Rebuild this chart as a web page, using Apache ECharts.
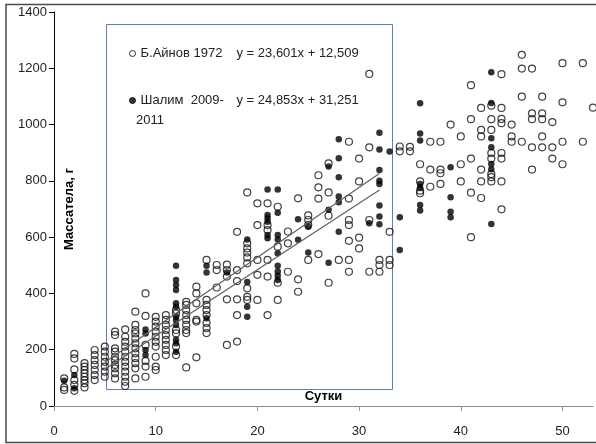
<!DOCTYPE html>
<html>
<head>
<meta charset="utf-8">
<script src="https://cdn.jsdelivr.net/npm/echarts@6/dist/echarts.min.js"></script>
<style>
html, body { margin: 0; padding: 0; background: #fff; }
#chart { width: 596px; height: 444px; }
</style>
</head>
<body>
<div id="chart"></div>
<script>
'use strict';

// open circles: Б.Айнов 1972  [day, mass]
var ainovPoints = [
    [1, 98], [1, 66], [1, 57],
    [2, 185], [2, 169], [2, 130], [2, 92], [2, 75], [2, 54],
    [3, 152], [3, 140], [3, 128], [3, 116], [3, 104], [3, 92], [3, 81], [3, 66],
    [4, 199], [4, 181], [4, 163], [4, 146], [4, 128], [4, 110], [4, 92],
    [5, 211], [5, 193], [5, 175], [5, 157], [5, 140], [5, 122], [5, 104],
    [6, 264], [6, 252], [6, 205], [6, 193], [6, 175], [6, 163], [6, 146], [6, 134], [6, 116], [6, 98],
    [7, 272], [7, 246], [7, 228], [7, 211], [7, 193], [7, 175], [7, 157], [7, 140], [7, 122], [7, 104], [7, 86], [7, 71],
    [8, 335], [8, 288], [8, 270], [8, 258], [8, 240], [8, 223], [8, 205], [8, 187], [8, 170], [8, 152], [8, 134], [8, 98],
    [9, 400], [9, 320], [9, 217], [9, 160], [9, 140], [9, 104],
    [10, 317], [10, 300], [10, 282], [10, 264], [10, 246], [10, 228], [10, 211], [10, 175], [10, 140], [10, 128],
    [11, 323], [11, 306], [11, 288], [11, 270], [11, 252], [11, 235], [11, 217], [11, 199], [11, 181],
    [12, 341], [12, 329], [12, 270], [12, 258], [12, 211], [12, 181],
    [13, 370], [13, 359], [13, 341], [13, 323], [13, 306], [13, 288], [13, 270], [13, 259], [13, 137],
    [14, 424], [14, 400], [14, 365], [14, 306], [14, 300], [14, 173],
    [15, 519], [15, 377], [15, 359], [15, 341], [15, 323], [15, 295], [15, 277], [15, 259],
    [16, 501], [16, 483], [16, 421],
    [17, 502], [17, 483], [17, 460], [17, 379], [17, 217],
    [18, 619], [18, 483], [18, 444], [18, 379], [18, 323], [18, 229],
    [19, 759], [19, 578], [19, 560], [19, 545], [19, 528], [19, 507], [19, 418], [19, 388], [19, 377],
    [20, 720], [20, 643], [20, 519], [20, 466], [20, 377],
    [21, 720], [21, 643], [21, 625], [21, 519], [21, 460], [21, 323],
    [22, 708], [22, 566], [22, 438], [22, 377],
    [23, 620], [23, 578], [23, 477],
    [24, 738], [24, 450], [24, 406],
    [25, 677], [25, 661], [25, 643], [25, 519],
    [26, 820], [26, 777], [26, 737], [26, 540],
    [27, 862], [27, 759], [27, 676], [27, 438],
    [28, 519],
    [29, 939], [29, 737], [29, 661], [29, 643], [29, 587], [29, 519], [29, 477],
    [30, 879], [30, 798], [30, 598], [30, 560],
    [31, 1180], [31, 919], [31, 661], [31, 477],
    [32, 519], [32, 501], [32, 477],
    [33, 619], [33, 519], [33, 501],
    [34, 922], [34, 905],
    [35, 921], [35, 905],
    [36, 859], [36, 798], [36, 765], [36, 756],
    [37, 939], [37, 840], [37, 779],
    [38, 939], [38, 840], [38, 827], [38, 789],
    [39, 1000],
    [40, 958], [40, 859], [40, 798],
    [41, 1140], [41, 1019], [41, 879], [41, 758], [41, 600],
    [42, 1059], [42, 981], [42, 958], [42, 840], [42, 798], [42, 739],
    [43, 1067], [43, 1019], [43, 981], [43, 899], [43, 879], [43, 824], [43, 813], [43, 798],
    [44, 1179], [44, 1059], [44, 1020], [44, 1005], [44, 899], [44, 879], [44, 798], [44, 699],
    [45, 1000], [45, 958], [45, 939],
    [46, 1248], [46, 1199], [46, 1099], [46, 939],
    [47, 1199], [47, 1040], [47, 1019], [47, 919], [47, 840],
    [48, 1099], [48, 1040], [48, 1019], [48, 958], [48, 919],
    [49, 1009], [49, 919], [49, 879],
    [50, 1218], [50, 1079], [50, 939], [50, 859],
    [52, 1218], [52, 939],
    [53, 1060]
];

// filled circles: Шалим 2009-2011  [day, mass]
var shalimPoints = [
    [1, 90], [2, 110], [2, 63],
    [9, 272], [9, 258], [9, 199], [9, 181],
    [12, 498], [12, 448], [12, 430], [12, 412], [12, 365], [12, 353], [12, 317], [12, 306], [12, 288], [12, 235], [12, 223], [12, 193],
    [15, 312], [15, 498], [15, 474],
    [17, 474],
    [19, 592], [19, 441], [19, 353], [19, 317],
    [21, 769], [21, 679], [21, 667], [21, 655], [21, 608], [21, 596],
    [22, 769], [22, 687], [22, 608], [22, 592], [22, 543], [22, 498], [22, 478], [22, 463], [22, 448],
    [24, 664], [24, 591],
    [25, 637], [25, 545],
    [27, 851], [27, 697], [27, 509],
    [28, 948], [28, 880], [28, 813], [28, 744], [28, 724], [28, 619],
    [31, 649],
    [32, 971], [32, 911], [32, 839], [32, 800], [32, 789], [32, 712], [32, 673], [32, 646],
    [33, 904],
    [34, 671], [34, 554],
    [36, 1076], [36, 968], [36, 943], [36, 789], [36, 775], [36, 714], [36, 695],
    [39, 848], [39, 742], [39, 690], [39, 671],
    [43, 1186], [43, 1077], [43, 951], [43, 919], [43, 860], [43, 841], [43, 647]
];

var seriesNames = ['Б.Айнов 1972', 'Шалим 2009-2011'];
var legendLabels = ['Б.Айнов 1972', 'Шалим  2009-'];
var fitLabels = ['y = 23,601x + 12,509', 'y = 24,853x + 31,251'];
var ainovFit = [23.601, 12.509];
var shalimFit = [24.853, 31.251];
var trendDays = [5, 32];
var xTicks = [0, 10, 20, 30, 40, 50];

var FONT = '"Liberation Sans", Arial, sans-serif';

function fitLine(fit) {
    return trendDays.map(function (d) { return [d, fit[0] * d + fit[1]]; });
}

var chart = echarts.init(document.getElementById('chart'), null, { renderer: 'canvas' });

var option = {
    animation: false,
    backgroundColor: '#fff',
    textStyle: { fontFamily: FONT },
    grid: { left: 54, right: 3, top: 12, bottom: 38, outerBoundsMode: 'none', containLabel: false },
    legend: {
        data: seriesNames,
        orient: 'vertical',
        left: 124,
        top: 42,
        itemWidth: 6,
        itemHeight: 6,
        itemGap: 34,
        itemStyle: { borderWidth: 1, borderColor: '#000' },
        formatter: function (name) {
            var i = seriesNames.indexOf(name);
            return '{n|' + legendLabels[i] + '}{e|' + fitLabels[i] + '}';
        },
        textStyle: {
            fontFamily: FONT,
            fontSize: 13,
            color: '#222',
            rich: {
                n: { width: 96, fontSize: 13, lineHeight: 16, color: '#222', fontFamily: FONT },
                e: { fontSize: 13, lineHeight: 16, color: '#222', fontFamily: FONT }
            }
        }
    },
    xAxis: {
        type: 'value',
        min: 0,
        max: 53,
        interval: 10,
        name: 'Сутки',
        nameLocation: 'middle',
        nameGap: -16,
        nameMoveOverlap: false,
        nameTextStyle: { fontSize: 13, fontWeight: 'bold', color: '#000', fontFamily: FONT },
        splitLine: { show: false },
        axisLine: { lineStyle: { color: '#8a8a8a', width: 1 } },
        axisTick: { length: 5, lineStyle: { color: '#9a9a9a' }, customValues: xTicks },
        axisLabel: { margin: 19, fontSize: 13, color: '#222', customValues: xTicks }
    },
    yAxis: {
        type: 'value',
        min: 0,
        max: 1400,
        interval: 200,
        name: 'Массатела, г',
        nameLocation: 'middle',
        nameRotate: 90,
        nameGap: -22,
        nameMoveOverlap: false,
        nameTextStyle: { fontSize: 13, fontWeight: 'bold', color: '#000', fontFamily: FONT },
        splitLine: { show: false },
        axisLine: { show: true, lineStyle: { color: '#000', width: 1 } },
        axisTick: { show: true, length: 5, lineStyle: { color: '#000' } },
        axisLabel: {
            margin: 7,
            fontSize: 13,
            color: '#222',
            formatter: function (v) { return String(v); }
        }
    },
    series: [
        {
            name: seriesNames[0],
            type: 'scatter',
            symbol: 'circle',
            symbolSize: 7,
            itemStyle: { color: 'rgba(255,255,255,0)', borderColor: '#111', borderWidth: 1.2 },
            data: ainovPoints,
            z: 2
        },
        {
            name: seriesNames[1],
            type: 'scatter',
            symbol: 'circle',
            symbolSize: 6.5,
            itemStyle: { color: '#000' },
            data: shalimPoints,
            z: 3
        },
        {
            name: 'trend-ainov',
            type: 'line',
            data: fitLine(ainovFit),
            showSymbol: false,
            lineStyle: { color: '#606060', width: 1.2 },
            z: 4
        },
        {
            name: 'trend-shalim',
            type: 'line',
            data: fitLine(shalimFit),
            showSymbol: false,
            lineStyle: { color: '#606060', width: 1.2 },
            z: 4
        }
    ],
    graphic: [
        {
            // chart frame
            type: 'rect',
            shape: { x: 6, y: 4.5, width: 620, height: 438 },
            style: { fill: 'none', stroke: '#4a4a4a', lineWidth: 1.5 },
            silent: true
        },
        {
            // legend box
            type: 'rect',
            shape: { x: 106.5, y: 24.5, width: 286, height: 365 },
            style: { fill: 'none', stroke: '#5e7fb5', lineWidth: 1 },
            silent: true,
            z: 1
        },
        {
            type: 'text',
            left: 136,
            top: 114,
            style: { text: '2011', fontSize: 13, fill: '#222', fontFamily: FONT },
            silent: true
        }
    ]
};

chart.setOption(option);
</script>
</body>
</html>
